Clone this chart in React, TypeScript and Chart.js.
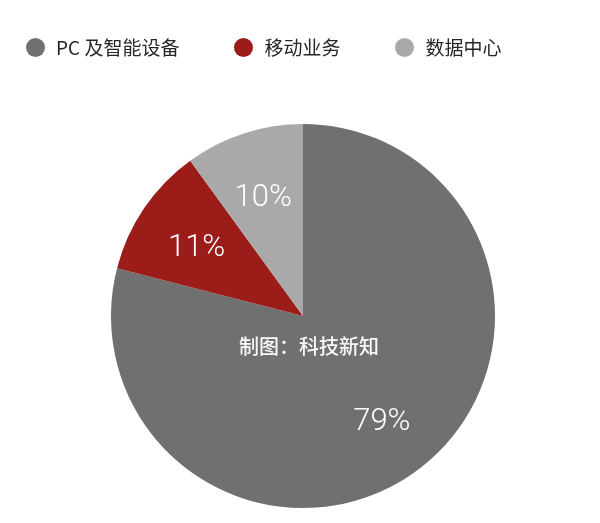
import React, { useEffect, useRef } from 'react';
import { Chart, ArcElement, PieController } from 'chart.js';

Chart.register(ArcElement, PieController);

// share of revenue by business line
const categories = ['PC 及智能设备', '移动业务', '数据中心'];
const shares = [79, 11, 10];
const sliceColors = ['#6f7070', '#9b1c19', '#a9a9a9'];
const watermark = '制图：科技新知';

const sliceLabels = {
  id: 'sliceLabels',
  afterDatasetsDraw(chart: any) {
    const ctx = chart.ctx;
    const meta = chart.getDatasetMeta(0);
    ctx.save();
    ctx.fillStyle = '#ffffff';
    ctx.textAlign = 'center';
    ctx.textBaseline = 'middle';
    ctx.font = '300 31px Roboto, "Liberation Sans", sans-serif';
    let cx = 0;
    let cy = 0;
    meta.data.forEach((arc: any, i: number) => {
      const { x, y, startAngle, endAngle, outerRadius } = arc.getProps(
        ['x', 'y', 'startAngle', 'endAngle', 'outerRadius'],
        true
      );
      cx = x;
      cy = y;
      const mid = (startAngle + endAngle) / 2;
      const r = outerRadius * 0.67;
      // middle baseline sits a bit high for digits, nudge down
      ctx.fillText(shares[i] + '%', x + Math.cos(mid) * r, y + Math.sin(mid) * r + 5);
    });
    ctx.font = '500 20px "Noto Sans CJK SC", sans-serif';
    ctx.fillStyle = 'rgba(255,255,255,0.95)';
    ctx.fillText(watermark, cx + 6, cy + 30);
    ctx.restore();
  },
};

const App: React.FC = () => {
  const chartRef = useRef<HTMLCanvasElement>(null);
  const chartInstance = useRef<Chart | null>(null);

  useEffect(() => {
    if (!chartRef.current) return;
    if (chartInstance.current) chartInstance.current.destroy();

    chartInstance.current = new Chart(chartRef.current, {
      type: 'pie',
      data: {
        labels: categories,
        datasets: [{
          data: shares,
          backgroundColor: sliceColors,
          borderWidth: 0,
        }],
      },
      options: {
        animation: false,
        responsive: true,
        maintainAspectRatio: false,
        layout: { padding: { top: 124, bottom: 15, left: 6, right: 0 } },
        plugins: {
          legend: { display: false },
          tooltip: { enabled: false },
        },
      },
      plugins: [sliceLabels],
    });

    return () => {
      if (chartInstance.current) {
        chartInstance.current.destroy();
        chartInstance.current = null;
      }
    };
  }, []);

  return (
    <div style={{ position: 'absolute', left: 0, top: 0, width: 600, height: 523, background: '#fff' }}>
      <canvas ref={chartRef}></canvas>
      <div
        style={{
          position: 'absolute',
          top: 37,
          left: 26,
          display: 'flex',
          alignItems: 'center',
          fontFamily: '"Noto Sans CJK SC", sans-serif',
          fontSize: 19,
          lineHeight: '20px',
          color: '#262626',
        }}
      >
        {categories.map((c, i) => (
          <div key={c} style={{ display: 'flex', alignItems: 'center', marginRight: 55 }}>
            <span
              style={{
                display: 'inline-block',
                width: 19,
                height: 19,
                borderRadius: '50%',
                background: sliceColors[i],
                marginRight: 11,
              }}
            />
            <span>{c}</span>
          </div>
        ))}
      </div>
    </div>
  );
};

export default App;
